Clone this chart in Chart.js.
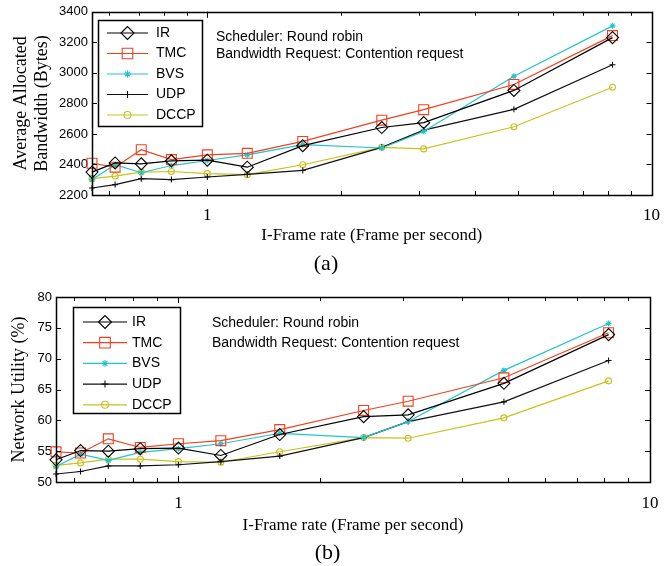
<!DOCTYPE html>
<html>
<head>
<meta charset="utf-8">
<script src="https://cdn.jsdelivr.net/npm/chart.js@4.4.0/dist/chart.umd.min.js"></script>
<style>
  body { margin: 0; background: #fff; }
  .box { position: absolute; left: 0; width: 670px; height: 283px; }
</style>
</head>
<body>
<div class="box" style="top:0"><canvas id="canva1" width="670" height="283"></canvas></div>
<div class="box" style="top:283px"><canvas id="canva2" width="670" height="283"></canvas></div>
<script>
// dados

var frame_rate = [0.55, 0.62, 0.71, 0.83, 1.0, 1.23, 1.64, 2.47, 3.07, 4.9, 8.17];
var x_ticks = [0.6, 0.7, 0.8, 0.9, 1, 2, 3, 4, 5, 6, 7, 8, 9, 10];
var x_labels = [1, 10];
var nomes = ['IR', 'TMC', 'BVS', 'UDP', 'DCCP'];

// (a) banda media alocada (Bytes)
var bw_ir   = [2350, 2410, 2404, 2424, 2428, 2382, 2523, 2642, 2674, 2885, 3231];
var bw_tmc  = [2408, 2382, 2497, 2432, 2463, 2473, 2551, 2690, 2759, 2924, 3244];
var bw_bvs  = [2302, 2398, 2346, 2393, 2426, 2463, 2530, 2508, 2616, 2978, 3308];
var bw_udp  = [2246, 2268, 2307, 2301, 2318, 2335, 2361, 2512, 2625, 2761, 3053];
var bw_dccp = [2307, 2324, 2350, 2354, 2340, 2333, 2398, 2512, 2502, 2647, 2906];

// (b) utilizacao da rede (%)
var nu_ir   = [53.6, 55.1, 55.0, 55.4, 55.5, 54.3, 57.7, 60.6, 60.9, 66.0, 73.9];
var nu_tmc  = [54.9, 54.7, 57.0, 55.6, 56.2, 56.7, 58.5, 61.6, 63.1, 66.9, 74.2];
var nu_bvs  = [52.5, 54.5, 53.5, 54.8, 55.4, 56.2, 57.9, 57.2, 59.8, 68.1, 75.7];
var nu_udp  = [51.3, 51.7, 52.6, 52.6, 52.8, 53.3, 54.2, 57.2, 59.8, 63.0, 69.7];
var nu_dccp = [52.7, 53.1, 53.7, 53.7, 53.3, 53.2, 54.9, 57.2, 57.1, 60.4, 66.4];

var cores = ['#000000', '#f0401e', '#22c4cc', '#111111', '#c8c21e'];
var estilos = ['rectRot', 'rect', 'star', 'cross', 'circle'];
var raios = [6, 7, 3, 3, 3];

var SERIF = "'Liberation Serif', 'Times New Roman', serif";
var SANS = "'Liberation Sans', Arial, sans-serif";

function montaDatasets(listas) {
    var ds = [];
    for (var i = 0; i < listas.length; i++) {
        var pts = [];
        for (var j = 0; j < frame_rate.length; j++) {
            pts.push({ x: frame_rate[j], y: listas[i][j] });
        }
        ds.push({
            label: nomes[i],
            data: pts,
            borderColor: cores[i],
            backgroundColor: 'rgba(0,0,0,0)',
            borderWidth: 1.2,
            pointStyle: estilos[i],
            pointRadius: raios[i],
            pointBorderColor: cores[i],
            pointBackgroundColor: 'rgba(0,0,0,0)',
            pointBorderWidth: 1.1,
            tension: 0,
            clip: false
        });
    }
    return ds;
}

// moldura com ticks para dentro (estilo matlab)
var moldura = {
    id: 'moldura',
    afterDatasetsDraw: function (chart) {
        var ctx = chart.ctx, a = chart.chartArea;
        var sx = chart.scales.x, sy = chart.scales.y;
        ctx.save();
        ctx.strokeStyle = '#000';
        ctx.lineWidth = 1;
        ctx.beginPath();
        sx.ticks.forEach(function (t) {
            var px = Math.round(sx.getPixelForValue(t.value)) + 0.5;
            var len = (t.value == 1 || t.value == 10) ? 6 : 4;
            ctx.moveTo(px, a.bottom); ctx.lineTo(px, a.bottom - len);
            ctx.moveTo(px, a.top); ctx.lineTo(px, a.top + len);
        });
        sy.ticks.forEach(function (t) {
            var py = Math.round(sy.getPixelForValue(t.value)) + 0.5;
            ctx.moveTo(a.left, py); ctx.lineTo(a.left + 5, py);
            ctx.moveTo(a.right, py); ctx.lineTo(a.right - 5, py);
        });
        ctx.stroke();
        ctx.lineWidth = 1.5;
        ctx.strokeRect(Math.round(a.left) + 0.5, Math.round(a.top) + 0.5,
            Math.round(a.right - a.left), Math.round(a.bottom - a.top));
        ctx.restore();
    }
};

// legenda com caixa e texto extra
var caixaLegenda = {
    id: 'caixaLegenda',
    afterDraw: function (chart, args, o) {
        var ctx = chart.ctx;
        ctx.save();
        ctx.fillStyle = '#fff';
        ctx.fillRect(o.x, o.y, o.w, o.h);
        ctx.strokeStyle = '#000';
        ctx.lineWidth = 1.5;
        ctx.strokeRect(o.x + 0.5, o.y + 0.5, o.w, o.h);
        ctx.font = '14px ' + SANS;
        ctx.textBaseline = 'middle';
        chart.data.datasets.forEach(function (d, i) {
            var y = o.y0 + i * o.dy;
            ctx.strokeStyle = d.borderColor;
            ctx.lineWidth = 1.2;
            ctx.beginPath();
            ctx.moveTo(o.l0, y); ctx.lineTo(o.l1, y);
            ctx.stroke();
            ctx.fillStyle = 'rgba(0,0,0,0)';
            ctx.lineWidth = 1.1;
            Chart.helpers.drawPoint(ctx, { pointStyle: d.pointStyle, radius: d.pointRadius + 0.5, rotation: 0, borderWidth: 1.1 },
                (o.l0 + o.l1) / 2, y);
            ctx.fillStyle = '#000';
            ctx.fillText(d.label, o.tx, y);
        });
        ctx.fillStyle = '#000';
        ctx.fillText('Scheduler: Round robin', o.ax, o.ay);
        ctx.fillText('Bandwidth Request: Contention request', o.ax, o.ay + o.ady);
        ctx.restore();
    }
};

function criaGrafico(id, listas, cfg) {
    var ctx = document.getElementById(id).getContext('2d');
    return new Chart(ctx, {
        type: 'line',
        data: { datasets: montaDatasets(listas) },
        options: {
            responsive: false,
            animation: false,
            devicePixelRatio: 1,
            layout: { padding: { top: cfg.top, right: cfg.right, left: 0, bottom: 0 } },
            scales: {
                x: {
                    type: 'logarithmic',
                    min: 0.55,
                    max: 10,
                    afterBuildTicks: function (s) {
                        s.ticks = x_ticks.map(function (v) { return { value: v }; });
                    },
                    afterFit: function (s) { s.height = cfg.xh; },
                    grid: { display: false, drawTicks: false },
                    border: { display: false },
                    ticks: {
                        autoSkip: false,
                        maxRotation: 0,
                        padding: cfg.xpad,
                        color: '#000',
                        font: { family: SERIF, size: 17 },
                        callback: function (v) { return x_labels.indexOf(v) >= 0 ? String(v) : ''; }
                    },
                    title: {
                        display: true,
                        text: 'I-Frame rate (Frame per second)',
                        color: '#000',
                        font: { family: SERIF, size: 17 },
                        padding: { top: 0, bottom: cfg.xtpad }
                    }
                },
                y: {
                    min: cfg.ymin,
                    max: cfg.ymax,
                    afterFit: function (s) { s.width = cfg.yw; },
                    grid: { display: false, drawTicks: false },
                    border: { display: false },
                    ticks: {
                        stepSize: cfg.step,
                        padding: 4,
                        color: '#000',
                        font: { family: SANS, size: 13 },
                        callback: function (v) { return String(v); }
                    },
                    title: {
                        display: true,
                        text: cfg.ytitle,
                        color: '#000',
                        font: { family: SERIF, size: 18 },
                        padding: { top: cfg.ytpad, bottom: 0 }
                    }
                }
            },
            plugins: {
                legend: { display: false },
                tooltip: { enabled: false },
                title: {
                    display: true,
                    position: 'bottom',
                    text: cfg.letra,
                    color: '#000',
                    font: { family: SERIF, size: 22, weight: 'normal' },
                    padding: { top: 0, bottom: cfg.tpad }
                },
                caixaLegenda: cfg.leg
            }
        },
        plugins: [moldura, caixaLegenda]
    });
}

var myChart1 = criaGrafico('canva1', [bw_ir, bw_tmc, bw_bvs, bw_udp, bw_dccp], {
    top: 10, right: 18, xh: 55.6, xpad: 10, xtpad: 4.4, yw: 92, ytpad: 10.2, tpad: 6,
    ymin: 2200, ymax: 3400, step: 200,
    ytitle: ['Average Allocated', 'Bandwidth (Bytes)'],
    letra: '(a)',
    leg: { x: 98, y: 20, w: 104, h: 106, y0: 33, dy: 20.5, l0: 107, l1: 148, tx: 156, ax: 216, ay: 37, ady: 17 }
});

var myChart2 = criaGrafico('canva2', [nu_ir, nu_tmc, nu_bvs, nu_udp, nu_dccp], {
    top: 14, right: 15, xh: 57.6, xpad: 11.5, xtpad: 3.4, yw: 56, ytpad: 8.2, tpad: 0,
    ymin: 50, ymax: 80, step: 5,
    ytitle: 'Network Utility (%)',
    letra: '(b)',
    leg: { x: 73, y: 24, w: 107, h: 106, y0: 39, dy: 20.7, l0: 83, l1: 127, tx: 132, ax: 212, ay: 40, ady: 20 }
});
</script>
</body>
</html>
